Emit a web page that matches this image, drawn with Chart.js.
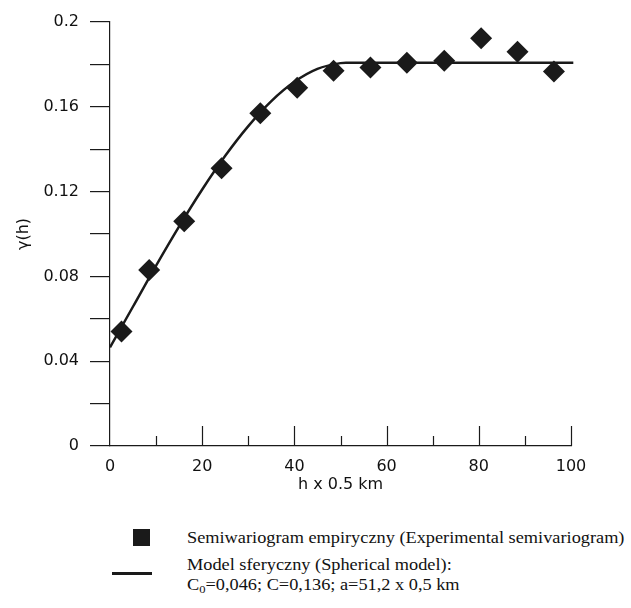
<!DOCTYPE html>
<html>
<head>
<meta charset="utf-8">
<script src="https://cdn.jsdelivr.net/npm/chart.js@4"></script>
<style>
  body { margin: 0; background: #fff; }
  #wrap { position: absolute; left: 0; top: 0; width: 631px; height: 500px; }
  .leg { position: absolute; font-family: "Liberation Serif", "Times New Roman", serif; font-size: 16px; color: #111; white-space: nowrap; transform-origin: 0 0; }
  #sq { position: absolute; left: 133px; top: 529px; width: 17px; height: 17px; background: #1a1a1a; }
  #ln { position: absolute; left: 112px; top: 572px; width: 40px; height: 2.5px; background: #1a1a1a; }
</style>
</head>
<body>
<div id="wrap"><canvas id="chart"></canvas></div>
<div id="sq"></div>
<div class="leg" id="leg1" style="left:187px; top:528px; line-height:19px;">Semiwariogram empiryczny (Experimental semivariogram)</div>
<div id="ln"></div>
<div class="leg" id="leg2" style="left:187px; top:555px; line-height:20px;">Model sferyczny (Spherical model):<br>C<sub style="font-size:11px; vertical-align:-3px; line-height:0;">0</sub>=0,046; C=0,136; a=51,2 x 0,5 km</div>
<script>
// experimental semivariogram (lag, gamma)
const lagH = [2.5, 8.5, 16.1, 24.2, 32.6, 40.6, 48.5, 56.5, 64.4, 72.5, 80.5, 88.4, 96.3];
const gammaH = [0.054, 0.083, 0.106, 0.131, 0.157, 0.169, 0.177, 0.1785, 0.1808, 0.1817, 0.1923, 0.186, 0.1766];

// spherical model curve
const modelH = [0, 5, 10, 15, 20, 25, 30, 35, 40, 45, 50, 51.2, 100.5];
const modelGamma = [0.0465, 0.0658, 0.0851, 0.1036, 0.121, 0.1369, 0.1509, 0.1627, 0.1718, 0.1779, 0.1806, 0.1808, 0.1808];

const xTickMarks = [10, 20, 30, 40, 50, 60, 70, 80, 90, 100];

const ink = '#1a1a1a';
const axisFont = { family: 'DejaVu Sans', size: 16 };

// x axis ticks point up into the plot
const innerTicks = {
  id: 'innerTicks',
  afterDraw(chart) {
    const ctx = chart.ctx;
    const xs = chart.scales.x;
    const y0 = chart.scales.y.getPixelForValue(0);
    ctx.save();
    ctx.strokeStyle = ink;
    ctx.lineWidth = 1.2;
    xTickMarks.forEach(v => {
      const px = Math.round(xs.getPixelForValue(v)) + 0.5;
      const len = v % 20 === 0 ? 20 : 10;
      ctx.beginPath();
      ctx.moveTo(px, y0);
      ctx.lineTo(px, y0 - len);
      ctx.stroke();
    });
    ctx.restore();
  }
};

new Chart(document.getElementById('chart'), {
  type: 'scatter',
  data: {
    datasets: [
      {
        label: 'model',
        type: 'line',
        data: modelH.map((h, i) => ({ x: h, y: modelGamma[i] })),
        borderColor: ink,
        borderWidth: 2.5,
        pointRadius: 0,
        cubicInterpolationMode: 'monotone',
        clip: false
      },
      {
        label: 'empirical',
        data: lagH.map((h, i) => ({ x: h, y: gammaH[i] })),
        pointStyle: 'rectRot',
        pointRadius: 11,
        backgroundColor: ink,
        borderColor: ink,
        borderWidth: 0
      }
    ]
  },
  options: {
    responsive: true,
    maintainAspectRatio: false,
    animation: false,
    layout: { padding: { left: 10, right: 60, top: 22, bottom: 2 } },
    plugins: { legend: { display: false }, tooltip: { enabled: false } },
    scales: {
      x: {
        type: 'linear',
        min: 0,
        max: 100,
        afterFit(scale) { scale.height = 52; },
        border: { display: true, color: ink, width: 1.2 },
        grid: { display: true, drawOnChartArea: false, drawTicks: false },
        ticks: { stepSize: 20, padding: 11, color: '#111', font: axisFont },
        title: { display: true, text: 'h x 0.5 km', color: '#111', padding: { top: 0 }, font: axisFont }
      },
      y: {
        min: 0,
        max: 0.2,
        afterFit(scale) { scale.width = 100; },
        border: { display: true, color: ink, width: 1.2 },
        grid: { drawOnChartArea: false, drawTicks: true, tickLength: 20, color: ink, lineWidth: 1.2 },
        ticks: {
          stepSize: 0.02,
          padding: 11,
          color: '#111',
          font: axisFont,
          callback: v => Math.round(v * 100) % 4 === 0 ? String(Math.round(v * 100) / 100) : ''
        },
        title: { display: true, text: 'γ(h)', color: '#111', font: axisFont }
      }
    }
  },
  plugins: [innerTicks]
});

// the scanned legend text is stretched sideways; match its width
const leg1 = document.getElementById('leg1');
const k = 438 / leg1.offsetWidth;
leg1.style.transform = `scaleX(${k})`;
document.getElementById('leg2').style.transform = `scaleX(${k})`;
</script>
</body>
</html>
